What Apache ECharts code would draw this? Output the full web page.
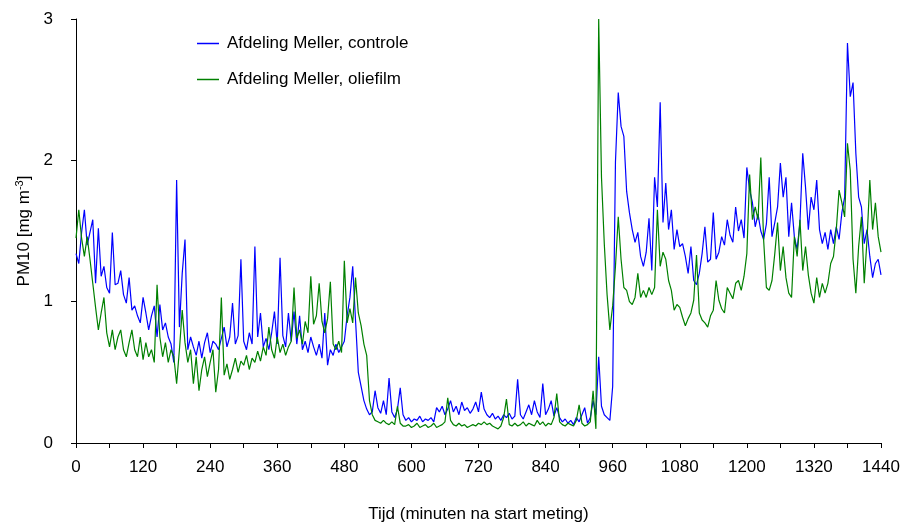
<!DOCTYPE html>
<html>
<head>
<meta charset="utf-8">
<script src="https://cdn.jsdelivr.net/npm/echarts@6/dist/echarts.min.js"></script>
<style>
  html, body { margin: 0; padding: 0; background: #fff; }
  #chart { width: 901px; height: 522px; }
</style>
</head>
<body>
<div id="chart"></div>
<script>
// PM10 metingen, een waarde per 5 minuten (0..1440)
const stepMin = 5;

// Afdeling Meller, controle (rijen van 1 uur)
const controle = [
  1.34,1.27,1.49,1.65,1.40,1.49,1.58,1.13,1.52,1.18,1.25,1.10,
  1.06,1.49,1.12,1.13,1.22,1.05,0.99,1.17,0.94,0.97,0.90,0.85,
  1.03,0.92,0.80,0.90,0.97,0.75,0.98,0.80,0.85,0.75,0.70,0.57,
  1.86,0.82,1.20,1.44,0.66,0.75,0.68,0.62,0.72,0.60,0.71,0.78,
  0.64,0.72,0.70,0.66,0.74,0.82,0.68,0.75,0.99,0.70,0.76,1.30,
  0.72,0.66,0.78,0.70,1.39,0.75,0.92,0.68,0.74,0.66,0.78,0.93,
  0.70,1.31,0.76,0.68,0.92,0.72,0.93,0.70,0.90,0.66,0.72,0.64,
  0.75,0.68,0.62,0.70,0.60,0.92,0.55,0.66,0.62,0.70,0.64,0.68,
  0.72,0.90,1.03,1.25,0.87,0.50,0.40,0.30,0.24,0.20,0.22,0.37,
  0.25,0.21,0.30,0.20,0.46,0.22,0.18,0.24,0.39,0.20,0.16,0.18,
  0.15,0.17,0.16,0.19,0.15,0.17,0.16,0.18,0.15,0.25,0.22,0.26,
  0.20,0.24,0.30,0.22,0.26,0.20,0.29,0.23,0.25,0.21,0.24,0.29,
  0.22,0.36,0.24,0.20,0.18,0.21,0.17,0.19,0.16,0.20,0.18,0.21,
  0.17,0.19,0.45,0.20,0.17,0.22,0.27,0.20,0.30,0.22,0.18,0.42,
  0.20,0.24,0.30,0.19,0.25,0.18,0.15,0.17,0.14,0.16,0.13,0.18,
  0.15,0.20,0.25,0.14,0.18,0.30,0.20,0.61,0.26,0.20,0.18,0.16,
  0.40,1.99,2.48,2.24,2.17,1.78,1.63,1.51,1.42,1.49,1.32,1.25,
  1.35,1.59,1.22,1.88,1.67,2.41,1.56,1.84,1.51,1.65,1.37,1.51,
  1.39,1.41,1.32,1.20,1.39,1.15,1.12,1.20,1.34,1.53,1.28,1.30,
  1.63,1.30,1.35,1.46,1.40,1.58,1.47,1.42,1.67,1.50,1.58,1.45,
  1.95,1.79,1.70,1.53,1.62,1.50,1.44,1.55,1.88,1.46,1.56,1.67,
  1.98,1.74,1.88,1.46,1.70,1.46,1.37,1.56,2.05,1.81,1.51,1.74,
  1.65,1.86,1.51,1.41,1.49,1.37,1.51,1.41,1.53,1.44,1.63,1.74,
  2.83,2.45,2.55,2.05,1.74,1.67,1.41,1.51,1.32,1.17,1.27,1.30,
  1.19
];

// Afdeling Meller, oliefilm
const oliefilm = [
  1.45,1.65,1.45,1.32,1.46,1.30,1.13,0.96,0.80,0.92,1.03,0.78,
  0.68,0.80,0.66,0.75,0.80,0.66,0.61,0.71,0.80,0.66,0.61,0.75,
  0.59,0.71,0.61,0.66,0.57,1.12,0.75,0.61,0.71,0.57,0.66,0.61,
  0.42,0.66,0.94,0.71,0.57,0.66,0.42,0.61,0.37,0.52,0.61,0.47,
  0.57,0.66,0.36,0.52,1.03,0.48,0.56,0.45,0.52,0.60,0.50,0.58,
  0.55,0.62,0.52,0.60,0.57,0.65,0.58,0.68,0.62,0.82,0.66,0.60,
  0.75,0.64,0.70,0.62,0.68,0.72,1.10,0.74,0.80,0.70,0.86,0.78,
  1.18,0.84,0.90,1.13,0.86,0.78,0.88,1.14,0.70,0.66,0.72,0.64,
  1.29,0.85,0.95,0.85,1.17,0.92,0.83,0.70,0.62,0.30,0.20,0.16,
  0.15,0.14,0.16,0.14,0.13,0.15,0.13,0.26,0.14,0.12,0.12,0.13,
  0.11,0.12,0.14,0.11,0.12,0.13,0.11,0.12,0.14,0.11,0.12,0.13,
  0.15,0.32,0.16,0.13,0.12,0.14,0.12,0.13,0.11,0.12,0.13,0.12,
  0.14,0.13,0.15,0.13,0.14,0.12,0.11,0.10,0.12,0.18,0.31,0.13,
  0.12,0.14,0.12,0.13,0.15,0.12,0.14,0.13,0.12,0.16,0.13,0.15,
  0.12,0.14,0.13,0.18,0.35,0.15,0.13,0.12,0.14,0.13,0.12,0.16,
  0.27,0.14,0.12,0.13,0.15,0.37,0.10,3.00,1.88,1.41,1.05,0.80,
  0.97,1.25,1.60,1.30,1.10,1.08,1.00,0.98,1.03,1.20,1.03,1.08,
  1.03,1.10,1.05,1.10,1.65,1.25,1.35,1.30,1.15,1.08,0.94,0.98,
  0.96,0.89,0.83,0.88,0.92,1.01,1.33,0.92,0.87,0.85,0.82,0.90,
  0.94,1.15,1.01,0.95,0.92,1.10,1.06,1.02,1.13,1.15,1.08,1.18,
  1.34,1.90,1.58,1.67,1.58,2.02,1.44,1.10,1.08,1.15,1.34,1.56,
  1.22,1.39,1.17,1.06,1.03,1.46,1.32,1.58,1.22,1.39,1.19,1.06,
  0.99,1.17,1.03,1.13,1.06,1.13,1.27,1.32,1.51,1.79,1.70,1.60,
  2.12,1.93,1.30,1.06,1.39,1.60,1.13,1.44,1.86,1.51,1.70,1.46,
  1.35
];

const seriesNames = ['Afdeling Meller, controle', 'Afdeling Meller, oliefilm'];
const xTitle = 'Tijd (minuten na start meting)';

const font = '"Liberation Sans", Arial, sans-serif';

function toPoints(values) {
  return values.map((v, i) => [i * stepMin, v]);
}

const chart = echarts.init(document.getElementById('chart'));

const option = {
  backgroundColor: '#fff',
  animation: false,
  textStyle: { fontFamily: font, color: '#000' },
  grid: { left: 76, right: 20, top: 19, bottom: 79, outerBoundsMode: 'none' },
  legend: {
    orient: 'vertical',
    left: 192,
    top: 30,
    icon: 'rect',
    itemWidth: 22,
    itemHeight: 1.5,
    itemGap: 19,
    textStyle: { fontSize: 17, color: '#000', fontFamily: font, padding: [0, 0, 0, 3] },
    data: seriesNames
  },
  xAxis: {
    type: 'value',
    min: 0,
    max: 1440,
    interval: 60,
    name: xTitle,
    nameLocation: 'middle',
    nameGap: 63,
    nameTextStyle: { fontSize: 17, color: '#000', fontFamily: font },
    axisLine: { lineStyle: { color: '#000', width: 1 } },
    axisTick: { length: 5, lineStyle: { color: '#000' } },
    axisLabel: {
      fontSize: 17,
      color: '#000',
      margin: 16,
      formatter: v => (v % 120 === 0 ? String(v) : '')
    },
    splitLine: { show: false }
  },
  yAxis: {
    type: 'value',
    min: 0,
    max: 3,
    interval: 1,
    name: '{n|PM10 [mg m}{s|-3}{n|]}',
    nameLocation: 'middle',
    nameGap: 42,
    nameTextStyle: {
      rich: {
        n: { fontSize: 17, color: '#000', fontFamily: font },
        s: { fontSize: 11, color: '#000', fontFamily: font, verticalAlign: 'top', padding: [0, 0, 9, 0] }
      }
    },
    axisLine: { show: true, lineStyle: { color: '#000', width: 1 } },
    axisTick: { show: true, length: 5, lineStyle: { color: '#000' } },
    axisLabel: { fontSize: 17, color: '#000', margin: 23 },
    splitLine: { show: false }
  },
  series: [
    {
      name: seriesNames[0],
      type: 'line',
      data: toPoints(controle),
      symbol: 'none',
      color: '#0000ff',
      lineStyle: { width: 1.2, color: '#0000ff' }
    },
    {
      name: seriesNames[1],
      type: 'line',
      data: toPoints(oliefilm),
      symbol: 'none',
      color: '#008000',
      lineStyle: { width: 1.2, color: '#008000' }
    }
  ]
};

chart.setOption(option);
</script>
</body>
</html>
